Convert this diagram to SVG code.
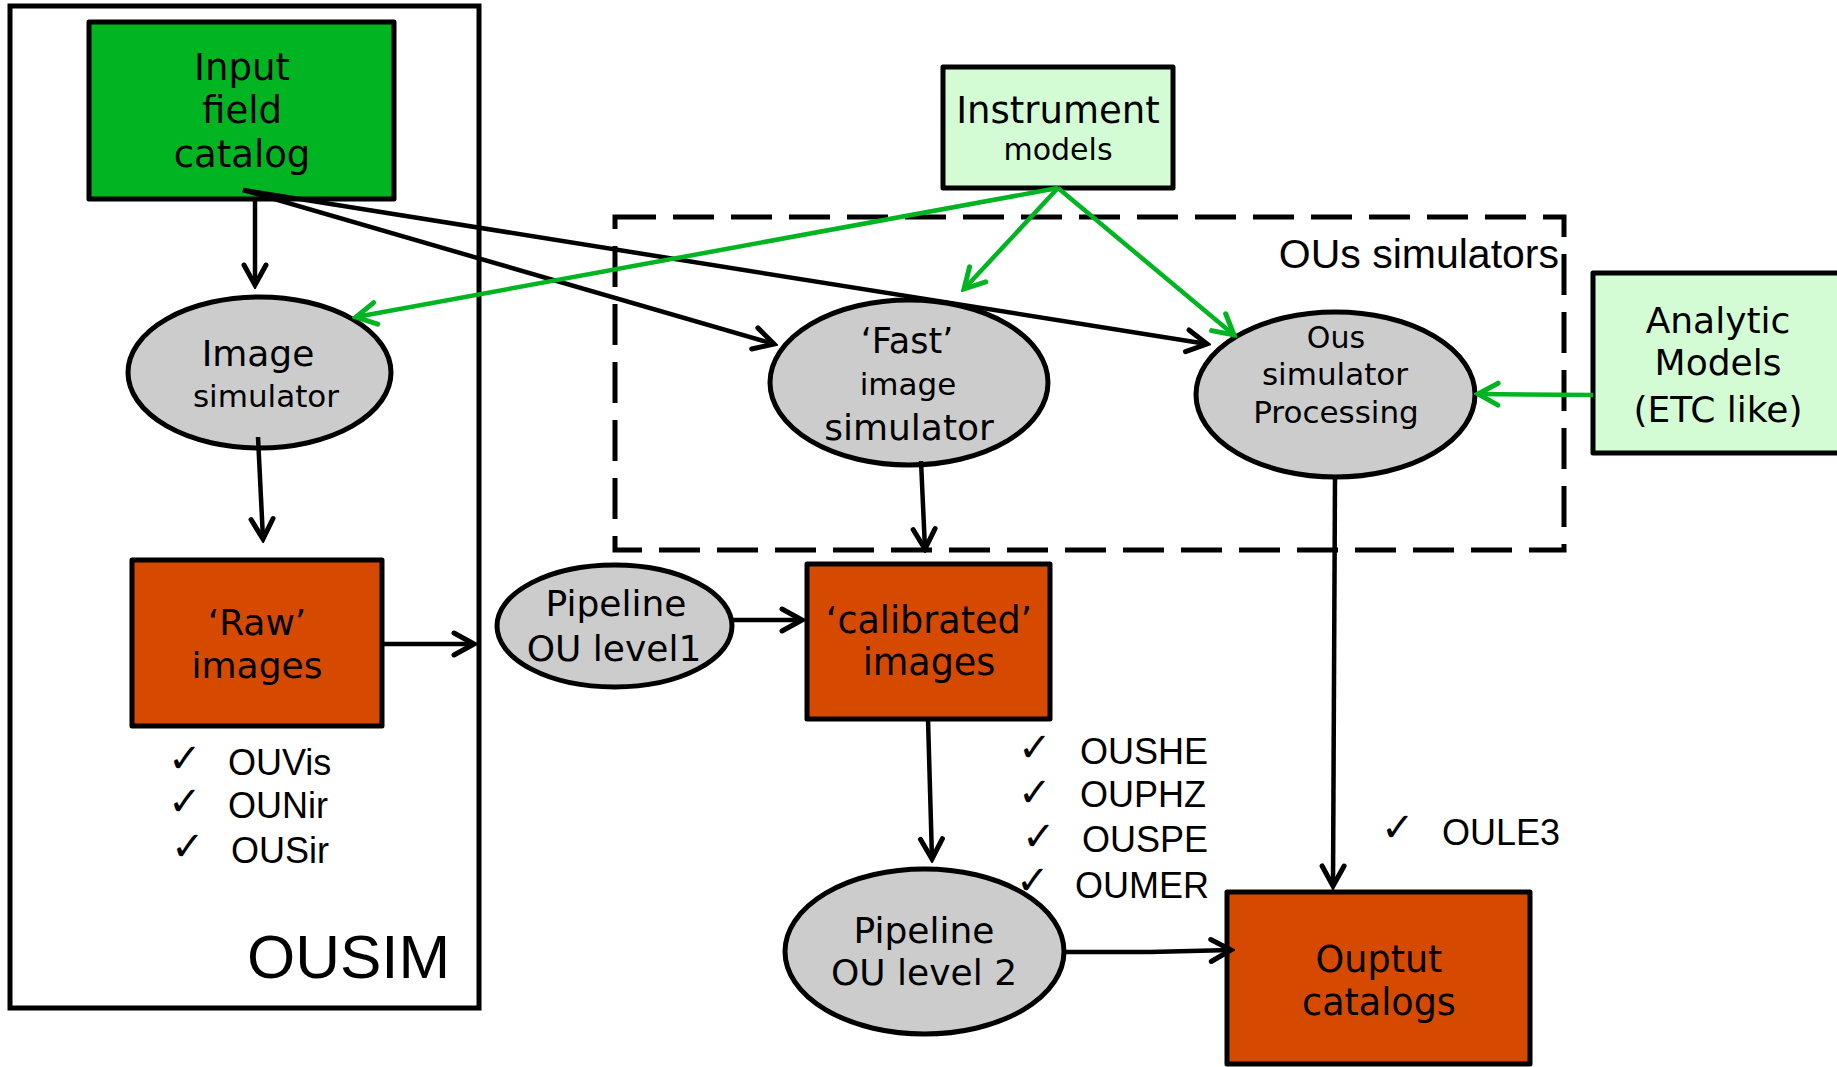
<svg xmlns="http://www.w3.org/2000/svg" width="1837" height="1067" viewBox="0 0 1837 1067">
  <defs>
    <style>
      .box { stroke: #000; stroke-width: 5; stroke-linejoin: round; }
      .ell { fill: #cccccc; stroke: #000; stroke-width: 5; }
      .cat { fill: #00b521; }
      .mod { fill: #d4fcd4; }
      .prod { fill: #d64a00; }
      .lbl { font-family: "DejaVu Sans", Verdana, sans-serif; fill: #000; text-anchor: middle; }
      .note { font-family: "Liberation Sans", Arial, sans-serif; fill: #000; }
      .chk { font-family: "DejaVu Sans", sans-serif; font-size: 40px; fill: #000; }
      .blk { fill: none; stroke: #000; stroke-width: 4.5; }
      .grn { fill: none; stroke: #00b521; stroke-width: 4.5; }
    </style>
    <marker id="ahBlack" markerUnits="userSpaceOnUse" viewBox="-26 -15 30 30" refX="0" refY="0" markerWidth="30" markerHeight="30" orient="auto">
      <path d="M-20,-11 L0,0 L-20,11" fill="none" stroke="#000" stroke-width="5" stroke-linecap="round" stroke-linejoin="miter"/>
    </marker>
    <marker id="ahGreen" markerUnits="userSpaceOnUse" viewBox="-26 -15 30 30" refX="0" refY="0" markerWidth="30" markerHeight="30" orient="auto">
      <path d="M-20,-11 L0,0 L-20,11" fill="none" stroke="#00b521" stroke-width="5" stroke-linecap="round" stroke-linejoin="miter"/>
    </marker>
  </defs>

  <rect width="1837" height="1067" fill="#ffffff"/>

  <!-- OUSIM frame -->
  <g id="ousim">
    <rect x="10" y="6" width="469" height="1002" fill="none" stroke="#000" stroke-width="5"/>
    <text class="note" x="247" y="978" font-size="62">OUSIM</text>
  </g>

  <!-- OUs simulators frame -->
  <g id="ous-simulators">
    <rect x="615" y="217" width="949" height="333" fill="none" stroke="#000" stroke-width="5" stroke-dasharray="41 17"/>
    <text class="note" x="1559" y="268" font-size="41" text-anchor="end">OUs simulators</text>
  </g>

  <!-- check lists -->
  <g id="list-ousim">
    <text class="chk" x="168" y="772">✓</text>
    <text class="chk" x="168" y="815">✓</text>
    <text class="chk" x="171" y="860">✓</text>
    <text class="note" x="228" y="775" font-size="36">OUVis</text>
    <text class="note" x="228" y="817.5" font-size="36">OUNir</text>
    <text class="note" x="231" y="863" font-size="36">OUSir</text>
  </g>
  <g id="list-level2">
    <text class="chk" x="1018" y="761">✓</text>
    <text class="chk" x="1018" y="806">✓</text>
    <text class="chk" x="1022" y="850">✓</text>
    <text class="chk" x="1016" y="894">✓</text>
    <text class="note" x="1080" y="763.5" font-size="36">OUSHE</text>
    <text class="note" x="1080" y="807" font-size="36">OUPHZ</text>
    <text class="note" x="1082" y="852" font-size="36">OUSPE</text>
    <text class="note" x="1075" y="898" font-size="36">OUMER</text>
  </g>
  <g id="list-le3">
    <text class="chk" x="1381" y="841">✓</text>
    <text class="note" x="1442" y="845" font-size="36">OULE3</text>
  </g>

  <!-- nodes -->
  <g id="input-catalog">
    <rect class="box cat" x="89" y="22" width="305" height="177"/>
    <text class="lbl" x="242" y="80" font-size="37">Input</text>
    <text class="lbl" x="242" y="123" font-size="37">field</text>
    <text class="lbl" x="242" y="167" font-size="37">catalog</text>
  </g>

  <g id="instrument-models">
    <rect class="box mod" x="943" y="67" width="230" height="121"/>
    <text class="lbl" x="1058" y="123" font-size="37">Instrument</text>
    <text class="lbl" x="1058" y="160" font-size="30">models</text>
  </g>

  <g id="analytic-models">
    <rect class="box mod" x="1593" y="273" width="260" height="180"/>
    <text class="lbl" x="1718" y="333" font-size="36">Analytic</text>
    <text class="lbl" x="1718" y="375" font-size="36">Models</text>
    <text class="lbl" x="1718" y="422" font-size="36">(ETC like)</text>
  </g>

  <g id="image-simulator">
    <ellipse class="ell" cx="259.5" cy="372.5" rx="131.5" ry="75.5"/>
    <text class="lbl" x="258" y="366" font-size="36">Image</text>
    <text class="lbl" x="266" y="407" font-size="31">simulator</text>
  </g>

  <g id="fast-simulator">
    <ellipse class="ell" cx="909" cy="382.5" rx="139" ry="82.5"/>
    <text class="lbl" x="907" y="353" font-size="35">‘Fast’</text>
    <text class="lbl" x="908" y="395" font-size="31">image</text>
    <text class="lbl" x="909" y="440" font-size="36">simulator</text>
  </g>

  <g id="ous-processing">
    <ellipse class="ell" cx="1335.5" cy="394.5" rx="139.5" ry="82.5"/>
    <text class="lbl" x="1336" y="348" font-size="30">Ous</text>
    <text class="lbl" x="1335" y="385" font-size="31">simulator</text>
    <text class="lbl" x="1336" y="423" font-size="31">Processing</text>
  </g>

  <g id="raw-images">
    <rect class="box prod" x="132" y="560" width="250" height="166"/>
    <text class="lbl" x="257" y="635" font-size="36">‘Raw’</text>
    <text class="lbl" x="257" y="678" font-size="36">images</text>
  </g>

  <g id="pipeline-level1">
    <ellipse class="ell" cx="614.5" cy="626" rx="117.5" ry="61"/>
    <text class="lbl" x="616" y="616" font-size="36">Pipeline</text>
    <text class="lbl" x="614" y="661" font-size="36">OU level1</text>
  </g>

  <g id="calibrated-images">
    <rect class="box prod" x="807" y="564" width="243" height="155"/>
    <text class="lbl" x="929" y="633" font-size="36.5">‘calibrated’</text>
    <text class="lbl" x="929" y="674.5" font-size="36.5">images</text>
  </g>

  <g id="pipeline-level2">
    <ellipse class="ell" cx="924.5" cy="951.5" rx="139.5" ry="82.5"/>
    <text class="lbl" x="924" y="943" font-size="36">Pipeline</text>
    <text class="lbl" x="924" y="985" font-size="36">OU level 2</text>
  </g>

  <g id="output-catalogs">
    <rect class="box prod" x="1227" y="892" width="303" height="172"/>
    <text class="lbl" x="1379" y="972" font-size="36.5">Ouptut</text>
    <text class="lbl" x="1379" y="1015" font-size="36.5">catalogs</text>
  </g>

  <!-- connectors -->
  <g id="connectors">
    <line class="blk" x1="255" y1="199" x2="255" y2="285" marker-end="url(#ahBlack)"/>
    <line class="blk" x1="243" y1="190" x2="774" y2="344" marker-end="url(#ahBlack)"/>
    <line class="blk" x1="243" y1="190" x2="1207" y2="344" marker-end="url(#ahBlack)"/>
    <line class="blk" x1="258" y1="437" x2="263" y2="539" marker-end="url(#ahBlack)"/>
    <line class="blk" x1="382" y1="644" x2="474" y2="644" marker-end="url(#ahBlack)"/>
    <line class="blk" x1="921" y1="461" x2="925" y2="549" marker-end="url(#ahBlack)"/>
    <line class="blk" x1="732" y1="620" x2="802" y2="620" marker-end="url(#ahBlack)"/>
    <line class="blk" x1="928" y1="719" x2="932" y2="859" marker-end="url(#ahBlack)"/>
    <polyline class="blk" points="1064,952 1150,952 1231,950" marker-end="url(#ahBlack)"/>
    <line class="blk" x1="1335" y1="477" x2="1333" y2="886" marker-end="url(#ahBlack)"/>

    <line class="grn" x1="1058" y1="188" x2="356" y2="317" marker-end="url(#ahGreen)"/>
    <line class="grn" x1="1058" y1="188" x2="964" y2="289" marker-end="url(#ahGreen)"/>
    <line class="grn" x1="1058" y1="188" x2="1234" y2="335" marker-end="url(#ahGreen)"/>
    <line class="grn" x1="1593" y1="395" x2="1478" y2="394" marker-end="url(#ahGreen)"/>
  </g>
</svg>
